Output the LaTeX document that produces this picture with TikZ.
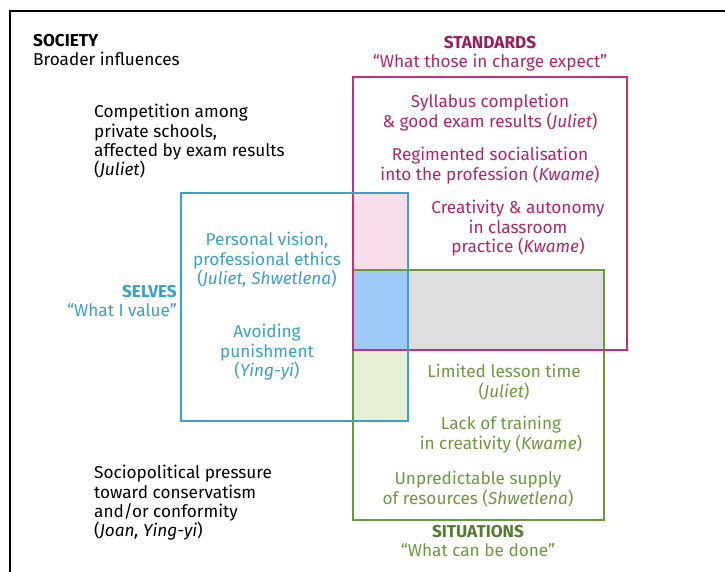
\documentclass[tikz,border=0pt]{standalone}
\usepackage{fontspec}
\setmainfont{Fira Sans}
\usetikzlibrary{positioning}
\definecolor{stdline}{HTML}{C2307A}
\definecolor{stdtext}{HTML}{B0246C}
\definecolor{selfline}{HTML}{3DA0C8}
\definecolor{selftext}{HTML}{3A9FCB}
\definecolor{sitline}{HTML}{6A9A3A}
\definecolor{sittext}{HTML}{6A9A3A}
\definecolor{pinkfill}{HTML}{F9DDEB}
\definecolor{bluefill}{HTML}{9DC9F7}
\definecolor{grayfill}{HTML}{DEDEDE}
\definecolor{greenfill}{HTML}{E6F0D6}
\begin{document}
\begin{tikzpicture}[x=1pt, y=-1pt,
	lbl/.style={font=\fontsize{17.2}{19.4}\selectfont, inner sep=0pt},
	soc/.style={lbl, align=left, anchor=north west},
	std/.style={lbl, text=stdtext, align=center, anchor=north},
	self/.style={lbl, text=selftext, align=center, anchor=north},
	sit/.style={lbl, text=sittext, align=center, anchor=north}]
	\useasboundingbox (0,0) rectangle (725,572);
	% overlaps
	\fill[pinkfill] (353,193) rectangle (408,270);
	\fill[bluefill] (353,270) rectangle (408,350);
	\fill[grayfill] (408,270) rectangle (604,350);
	\fill[greenfill] (353,350) rectangle (408,421);
	% frame
	\draw[line width=2pt] (10,572) -- (10,11) -- (725,11);
	% the three boxes
	\draw[sitline, line width=1.6pt] (353,270) rectangle (604,520);
	\draw[stdline, line width=1.6pt] (353,77) rectangle (627,350);
	\draw[selfline, line width=1.6pt] (181,193) rectangle (408,421);
	% society
	\node[soc] (society) at (33,34) {\textbf{SOCIETY}\\Broader influences};
	\node[soc] (compet) at (94,104) {Competition among\\private schools,\\affected by exam results\\(\textit{Juliet})};
	\node[soc] (sociopol) at (94,465) {Sociopolitical pressure\\toward conservatism\\and/or conformity\\(\textit{Joan, Ying-yi})};
	% standards
	\node[std] (stdname) at (490,36) {\textcolor{stdtext!85!black}{\textbf{STANDARDS}}\\“What those in charge expect”};
	\node[std] (syllab) at (490,94) {Syllabus completion\\\& good exam results (\textit{Juliet})};
	\node[std] (regim) at (490,147) {Regimented socialisation\\into the profession (\textit{Kwame})};
	\node[std] (creat) at (518,200) {Creativity \& autonomy\\in classroom\\practice (\textit{Kwame})};
	% selves
	\node[self, align=right, anchor=north east] (selfname) at (177,285) {\textbf{SELVES}\\“What I value”};
	\node[self] (vision) at (267,232) {Personal vision,\\professional ethics\\(\textit{Juliet, Shwetlena})};
	\node[self] (avoid) at (267,324) {Avoiding\\punishment\\(\textit{Ying-yi})};
	% situations
	\node[sit] (limit) at (504,364) {Limited lesson time\\(\textit{Juliet})};
	\node[sit] (lack) at (501,416) {Lack of training\\in creativity (\textit{Kwame})};
	\node[sit] (supply) at (478,471) {Unpredictable supply\\of resources (\textit{Shwetlena})};
	\node[sit] (sitname) at (478,525) {\textcolor{sittext!80!black}{\textbf{SITUATIONS}}\\“What can be done”};
\end{tikzpicture}
\end{document}
